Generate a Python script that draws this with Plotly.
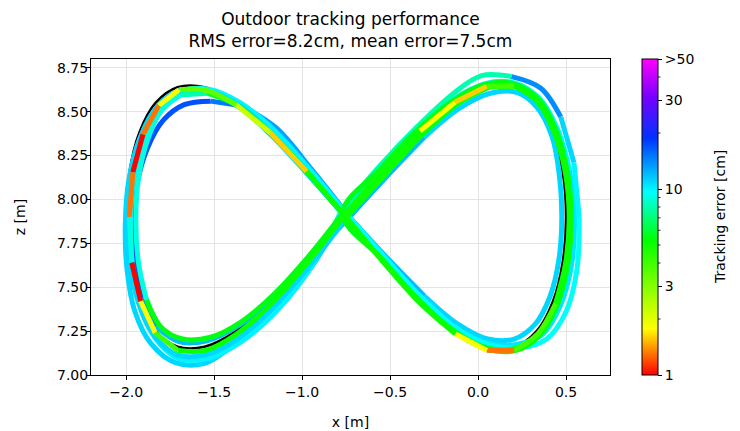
import math
import plotly.graph_objects as go
from plotly.colors import sample_colorscale

# ---------------- data ----------------
# reference trajectory (black), one lap, x [m] and z [m]
ref_x = [-0.75, -0.533, -0.323, -0.125, 0.054, 0.208, 0.333, 0.425, 0.481, 0.50,
         0.481, 0.425, 0.333, 0.208, 0.054, -0.125, -0.323, -0.533, -0.75, -0.967,
         -1.177, -1.375, -1.554, -1.708, -1.833, -1.925, -1.981, -2.00, -1.981, -1.925,
         -1.833, -1.708, -1.554, -1.375, -1.177, -0.967]
ref_z = [7.90, 8.157, 8.382, 8.55, 8.639, 8.639, 8.55, 8.382, 8.157, 7.90,
         7.643, 7.418, 7.25, 7.161, 7.161, 7.25, 7.418, 7.643, 7.90, 8.157,
         8.382, 8.55, 8.639, 8.639, 8.55, 8.382, 8.157, 7.90, 7.643, 7.418,
         7.25, 7.161, 7.161, 7.25, 7.418, 7.643]

# measured laps: position [m] and tracking error [cm]
lap_b_x = [-0.74, -0.515, -0.305, -0.105, 0.07, 0.22, 0.335, 0.42, 0.462, 0.476,
           0.46, 0.41, 0.325, 0.205, 0.055, -0.115, -0.305, -0.515, -0.735, -0.945,
           -1.15, -1.35, -1.52, -1.67, -1.79, -1.88, -1.94, -1.96, -1.955, -1.915,
           -1.83, -1.70, -1.54, -1.355, -1.155, -0.95]
lap_b_z = [7.89, 8.135, 8.355, 8.52, 8.605, 8.61, 8.525, 8.36, 8.14, 7.90,
           7.66, 7.45, 7.29, 7.205, 7.205, 7.29, 7.45, 7.665, 7.905, 8.17,
           8.41, 8.535, 8.56, 8.54, 8.45, 8.29, 8.08, 7.86, 7.65, 7.44,
           7.275, 7.19, 7.195, 7.285, 7.445, 7.665]
lap_b_err = [12, 12, 11, 11, 11, 11, 11, 11, 11, 11,
             11, 11, 11, 11, 11, 11, 12, 12, 13, 13,
             13, 15, 17, 17, 17, 17, 17, 17, 17, 14,
             12, 12, 12, 12, 12, 12]

lap_c_x = [-0.77, -0.55, -0.34, -0.14, 0.04, 0.20, 0.345, 0.45, 0.52, 0.548,
           0.532, 0.47, 0.37, 0.225, 0.06, -0.125, -0.325, -0.535, -0.755, -0.975,
           -1.18, -1.37, -1.545, -1.70, -1.83, -1.925, -1.985, -2.005, -1.995, -1.95,
           -1.86, -1.72, -1.55, -1.355, -1.15, -0.95]
lap_c_z = [7.915, 8.17, 8.40, 8.57, 8.66, 8.665, 8.58, 8.405, 8.17, 7.90,
           7.63, 7.40, 7.235, 7.175, 7.18, 7.265, 7.43, 7.655, 7.90, 8.15,
           8.37, 8.535, 8.61, 8.605, 8.51, 8.34, 8.11, 7.86, 7.60, 7.36,
           7.18, 7.07, 7.068, 7.20, 7.375, 7.61]
lap_c_err = [10.5, 10.5, 10, 10, 10, 10, 10, 10, 10.5, 10.5,
             10.5, 10.5, 10.5, 10.5, 10.5, 10.5, 10.5, 10.5, 11, 11,
             11, 11, 11, 11, 11, 11, 11, 11, 11, 11,
             11, 11, 11, 11, 11, 11]

lap_d_x = [-0.78, -0.56, -0.345, -0.145, 0.02, 0.19, 0.355, 0.47, 0.545, 0.575,
           0.562, 0.50, 0.39, 0.24, 0.075, -0.115, -0.315, -0.525, -0.75, -0.96,
           -1.16, -1.35, -1.53, -1.69, -1.81, -1.90, -1.955, -1.975, -1.965, -1.92,
           -1.835, -1.705, -1.535, -1.345, -1.14, -0.945]
lap_d_z = [7.93, 8.19, 8.415, 8.60, 8.705, 8.70, 8.635, 8.47, 8.21, 7.90,
           7.60, 7.36, 7.205, 7.155, 7.17, 7.26, 7.435, 7.665, 7.92, 8.175,
           8.395, 8.55, 8.628, 8.615, 8.525, 8.355, 8.13, 7.885, 7.63, 7.39,
           7.21, 7.095, 7.095, 7.19, 7.37, 7.62]
lap_d_err = [8, 8, 8, 8, 8, 14, 14, 11, 10, 9.5,
             9.5, 9.5, 9.5, 9.5, 9.5, 9.5, 9.5, 9.5, 10, 10,
             10, 10, 10, 10, 10, 10, 10, 10, 10, 10,
             10, 10, 10, 10, 10, 10]

lap_f_x = [-0.75, -0.525, -0.315, -0.115, 0.065, 0.22, 0.35, 0.445, 0.508, 0.53,
           0.51, 0.45, 0.35, 0.215, 0.06, -0.12, -0.315, -0.525, -0.75, -0.965,
           -1.17, -1.365, -1.545, -1.70, -1.823, -1.915, -1.97, -1.99, -1.978, -1.93,
           -1.845, -1.71, -1.55, -1.36, -1.16, -0.955]
lap_f_z = [7.895, 8.145, 8.37, 8.545, 8.64, 8.645, 8.56, 8.385, 8.155, 7.895,
           7.63, 7.40, 7.225, 7.14, 7.145, 7.235, 7.40, 7.63, 7.895, 8.15,
           8.375, 8.54, 8.618, 8.618, 8.53, 8.365, 8.145, 7.89, 7.635, 7.41,
           7.23, 7.115, 7.115, 7.21, 7.39, 7.625]
lap_f_err = [5, 5, 5, 5, 4.5, 5, 5, 5, 5, 5,
             5, 5, 5, 5, 5, 5, 5, 5, 7, 7,
             11, 11, 11, 11, 11, 11, 11, 11, 11, 11,
             11, 11, 11, 11, 11, 11]

lap_e_x = [-0.77, -0.55, -0.34, -0.14, 0.04, 0.20, 0.345, 0.445, 0.505, 0.525,
           0.505, 0.45, 0.345, 0.205, 0.045, -0.135, -0.335, -0.545, -0.77, -0.98,
           -1.18, -1.37, -1.54, -1.69, -1.80, -1.88, -1.93, -1.945, -1.93, -1.885,
           -1.80, -1.68, -1.52, -1.35, -1.16, -0.96]
lap_e_z = [7.92, 8.18, 8.40, 8.565, 8.655, 8.66, 8.57, 8.39, 8.16, 7.90,
           7.635, 7.405, 7.235, 7.15, 7.155, 7.25, 7.425, 7.66, 7.92, 8.165,
           8.38, 8.535, 8.605, 8.595, 8.505, 8.335, 8.12, 7.88, 7.64, 7.43,
           7.27, 7.205, 7.215, 7.30, 7.46, 7.68]
lap_e_err = [5.5, 5.5, 5.5, 5.5, 5.5, 5.5, 5.5, 5.5, 5.5, 5.5,
             5.5, 5.5, 5.5, 5.5, 5.5, 5.5, 5.5, 5.5, 6, 6,
             6, 6, 8, 9, 9, 9, 9, 9, 9, 5.5,
             5.5, 5.5, 5.5, 5.5, 5.5, 5.5]

lap_a_x = [-0.76, -0.54, -0.33, -0.13, 0.05, 0.205, 0.335, 0.43, 0.495, 0.518,
           0.498, 0.44, 0.34, 0.205, 0.05, -0.13, -0.33, -0.54, -0.76, -0.975,
           -1.18, -1.375, -1.55, -1.70, -1.815, -1.905, -1.962, -1.982, -1.968, -1.918,
           -1.835, -1.705, -1.55, -1.37, -1.17, -0.965]
lap_a_z = [7.91, 8.165, 8.39, 8.555, 8.645, 8.648, 8.56, 8.39, 8.16, 7.90,
           7.64, 7.405, 7.235, 7.14, 7.14, 7.235, 7.41, 7.645, 7.91, 8.16,
           8.38, 8.54, 8.622, 8.625, 8.535, 8.37, 8.155, 7.90, 7.64, 7.42,
           7.24, 7.14, 7.14, 7.235, 7.41, 7.645]
lap_a_err = [5, 5, 1.8, 1.6, 4, 5, 5, 5, 5, 5,
             5, 4, 4, 1.3, 1.8, 5, 5, 5, 5, 1.6,
             2.2, 3.5, 3.5, 1.8, 1.3, 1.0, 1.3, 9, 1.0, 1.8,
             4, 5, 5, 5, 5, 5]

# colour bar
cbar_ticks = [1, 3, 10, 30, 50]
cbar_ticktext = ["1", "3", "10", "30", ">50"]
cbar_minor = [2, 4, 5, 6, 7, 8, 9, 20, 40]
err_max = 50

x_tickvals = [-2.0, -1.5, -1.0, -0.5, 0.0, 0.5]
x_ticktext = ["\u22122.0", "\u22121.5", "\u22121.0", "\u22120.5", "0.0", "0.5"]
z_tickvals = [7.0, 7.25, 7.5, 7.75, 8.0, 8.25, 8.5, 8.75]
z_ticktext = ["7.00", "7.25", "7.50", "7.75", "8.00", "8.25", "8.50", "8.75"]

# ---------------- styling ----------------
COLORSCALE = [[0.0, "rgb(255,0,0)"], [0.147, "rgb(255,255,0)"], [0.425, "rgb(0,255,0)"],
              [0.58, "rgb(0,255,255)"], [0.75, "rgb(0,50,255)"], [0.88, "rgb(120,0,255)"],
              [1.0, "rgb(255,0,255)"]]
FONT = "DejaVu Sans"
LMAX = math.log10(err_max)


def err_color(e):
    frac = min(max(math.log10(e) / LMAX, 0.0), 1.0)
    return sample_colorscale(COLORSCALE, [frac])[0]


def lap_runs(xs, zs, es):
    n = len(xs)
    xs = list(xs) + [xs[0]]
    zs = list(zs) + [zs[0]]
    runs = []
    i = 0
    while i < n:
        j = i
        while j + 1 < n and es[j + 1] == es[i]:
            j += 1
        runs.append((xs[i:j + 2], zs[i:j + 2], es[i]))
        i = j + 1
    return runs


fig = go.Figure()

fig.add_trace(go.Scatter(x=ref_x + [ref_x[0]], y=ref_z + [ref_z[0]], mode="lines",
                         line=dict(color="black", width=2.5, shape="spline", smoothing=1),
                         hoverinfo="skip", showlegend=False))

laps = [(lap_b_x, lap_b_z, lap_b_err), (lap_c_x, lap_c_z, lap_c_err),
        (lap_d_x, lap_d_z, lap_d_err), (lap_f_x, lap_f_z, lap_f_err),
        (lap_e_x, lap_e_z, lap_e_err), (lap_a_x, lap_a_z, lap_a_err)]
for lx, lz, le in laps:
    for rx, rz, e in lap_runs(lx, lz, le):
        fig.add_trace(go.Scatter(x=rx, y=rz, mode="lines",
                                 line=dict(color=err_color(e), width=5, shape="spline", smoothing=1),
                                 hoverinfo="skip", showlegend=False))

CB_X = 1.0617
CB_THICK = 16
PLOT_W = 519
fig.add_trace(go.Scatter(
    x=[ref_x[0]], y=[ref_z[0]], mode="markers", hoverinfo="skip", showlegend=False,
    marker=dict(size=1, opacity=0, color=[0], cmin=0, cmax=LMAX, colorscale=COLORSCALE,
                showscale=True,
                colorbar=dict(x=CB_X, xanchor="left", y=0.5, yanchor="middle", len=1.0,
                              lenmode="fraction", thickness=CB_THICK, thicknessmode="pixels",
                              xpad=0, ypad=0, outlinecolor="black", outlinewidth=1,
                              tickmode="array", tickvals=[math.log10(v) for v in cbar_ticks],
                              ticktext=cbar_ticktext, ticks="outside", ticklen=4, tickwidth=1,
                              tickcolor="black", tickfont=dict(family=FONT, size=14, color="black")))))

shapes = []
for v in cbar_minor:
    yv = math.log10(v) / LMAX
    x0 = CB_X + CB_THICK / PLOT_W
    shapes.append(dict(type="line", xref="paper", yref="paper", x0=x0, x1=x0 + 2.5 / PLOT_W,
                       y0=yv, y1=yv, line=dict(color="black", width=0.8)))

fig.update_layout(
    width=740, height=431,
    margin=dict(l=91, r=130, t=59, b=56, autoexpand=False),
    paper_bgcolor="white", plot_bgcolor="white",
    font=dict(family=FONT, size=14, color="black"),
    title=dict(text="Outdoor tracking performance<br>RMS error=8.2cm, mean error=7.5cm",
               x=0.4736, xanchor="center", y=0.943, yanchor="top",
               font=dict(family=FONT, size=17, color="black")),
    shapes=shapes,
    annotations=[dict(text="Tracking error [cm]", xref="paper", yref="paper",
                      x=(720 - 91) / PLOT_W, y=0.5, xanchor="center", yanchor="middle",
                      textangle=-90, showarrow=False,
                      font=dict(family=FONT, size=14, color="black"))],
    xaxis=dict(range=[-2.2, 0.75], tickmode="array", tickvals=x_tickvals, ticktext=x_ticktext,
               automargin=False,
               showgrid=True, gridcolor="rgb(228,228,228)", gridwidth=1, zeroline=False,
               showline=True, linecolor="black", linewidth=1, mirror=True,
               ticks="outside", ticklen=4, tickwidth=1, tickcolor="black",
               tickfont=dict(family=FONT, size=14),
               title=dict(text="x [m]", font=dict(family=FONT, size=14), standoff=18)),
    yaxis=dict(range=[7.0, 8.8], tickmode="array", tickvals=z_tickvals, ticktext=z_ticktext,
               automargin=False,
               showgrid=True, gridcolor="rgb(228,228,228)", gridwidth=1, zeroline=False,
               showline=True, linecolor="black", linewidth=1, mirror=True,
               ticks="outside", ticklen=4, tickwidth=1, tickcolor="black",
               ticklabelstandoff=-5,
               tickfont=dict(family=FONT, size=14),
               title=dict(text="z [m]", font=dict(family=FONT, size=14), standoff=28)),
)

fig.write_html("out.html", config={"displayModeBar": False},
               post_script="document.body.style.margin='0px';document.body.style.overflow='hidden';")
